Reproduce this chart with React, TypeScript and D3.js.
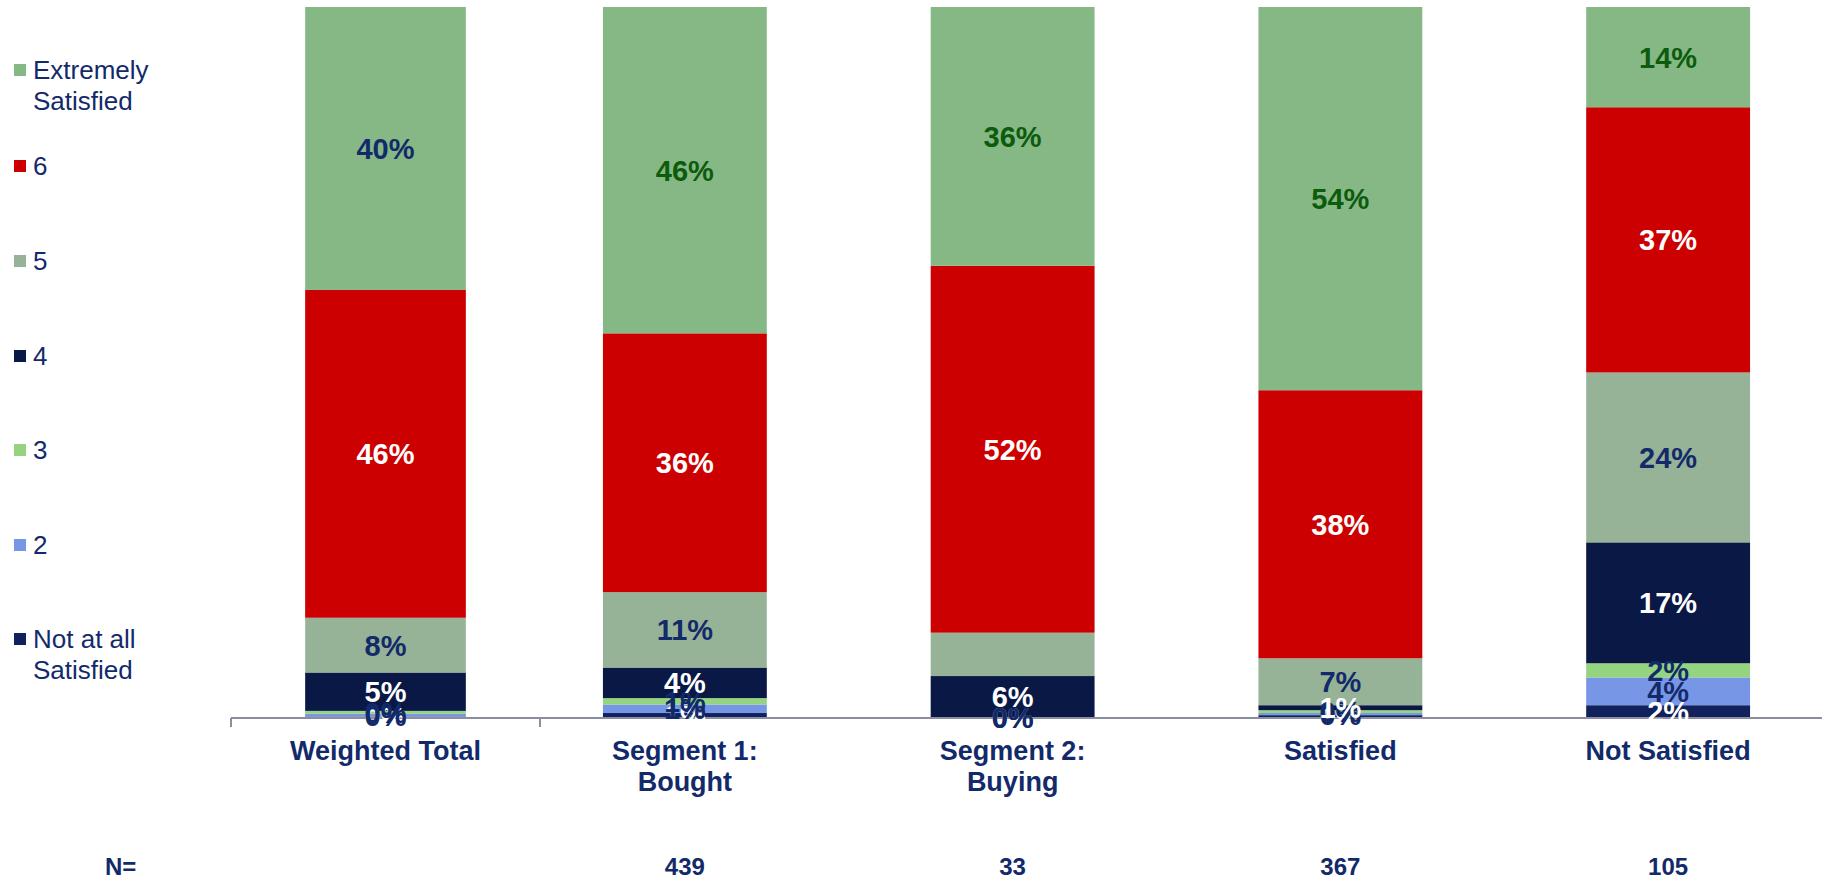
import React from "react";
import * as d3 from "d3";

const categories = ["Weighted Total", "Segment 1:\nBought", "Segment 2:\nBuying", "Satisfied", "Not Satisfied"];
const nValues = ["", "439", "33", "367", "105"];
const seriesKeys = ["Not at all Satisfied", "2", "3", "4", "5", "6", "Extremely Satisfied"];
const notAtAll = [0.2, 0.7, 0, 0.4, 1.8];
const two = [0.4, 1.2, 0, 0.3, 3.9];
const three = [0.4, 0.9, 0, 0.4, 2.0];
const four = [5.4, 4.3, 5.9, 0.7, 17.0];
const five = [7.7, 10.6, 6.1, 6.6, 23.9];
const six = [46.1, 36.4, 51.6, 37.7, 37.3];
const extremely = [39.8, 45.9, 36.4, 53.9, 14.1];
const legendOrder = ["Extremely Satisfied", "6", "5", "4", "3", "2", "Not at all Satisfied"];

const seriesValues: number[][] = [notAtAll, two, three, four, five, six, extremely];

const COLORS: Record<string, string> = {
  "Extremely Satisfied": "#86b886",
  "6": "#cc0000",
  "5": "#97b397",
  "4": "#0a1846",
  "3": "#94d47f",
  "2": "#7896e6",
  "Not at all Satisfied": "#10215c",
};
const NAVY = "#132a6a";
const DARKGREEN = "#0d5b0d";
const WHITE = "#ffffff";
const LABEL_COLORS: Record<string, string> = {
  "Extremely Satisfied": NAVY,
  "6": WHITE,
  "5": NAVY,
  "4": WHITE,
  "3": NAVY,
  "2": NAVY,
  "Not at all Satisfied": WHITE,
};
const hiddenLabels = new Set(["Segment 2:\nBuying|5"]);

const FONT = "'Liberation Sans', Arial, Helvetica, sans-serif";

export default function App() {
  const W = 1822;
  const H = 882;
  const baseY = 718;
  const topY = 7;

  const y = d3.scaleLinear().domain([0, 100]).range([baseY, topY]);
  const xTotal = d3
    .scaleBand<string>()
    .domain(categories.slice(0, 1))
    .range([231, 540])
    .paddingInner(0.48)
    .paddingOuter(0.24);
  const xSeg = d3
    .scaleBand<string>()
    .domain(categories.slice(1))
    .range([521, 1832])
    .paddingInner(0.5)
    .paddingOuter(0.25);
  const xPos = (c: string) => (categories.indexOf(c) === 0 ? xTotal(c)! : xSeg(c)!);
  const bw = (c: string) => (categories.indexOf(c) === 0 ? xTotal.bandwidth() : xSeg.bandwidth());

  const rows = categories.map((c, i) => {
    const r: any = { cat: c };
    seriesKeys.forEach((k, j) => (r[k] = seriesValues[j][i]));
    return r;
  });
  const stacked = d3.stack<any>().keys(seriesKeys)(rows);

  const legendY: Record<string, number> = {
    "Extremely Satisfied": 70,
    "6": 166,
    "5": 261,
    "4": 356,
    "3": 450,
    "2": 545,
    "Not at all Satisfied": 639,
  };

  return (
    <svg width={W} height={H} style={{ position: "absolute", left: 0, top: 0, background: "#fff" }} fontFamily={FONT}>
      {/* bars */}
      {stacked.map((s) => (
        <g key={s.key}>
          {s.map((d, i) => {
            const c = categories[i];
            const h = y(d[0]) - y(d[1]);
            if (h <= 0) return null;
            return (
              <rect key={c} x={xPos(c)} y={y(d[1])} width={bw(c)} height={h} fill={COLORS[s.key]} />
            );
          })}
        </g>
      ))}
      {/* axis */}
      <line x1={231} x2={W} y1={baseY} y2={baseY} stroke="#8b8ea0" strokeWidth={2} />
      {xTotal.range().map((t) => (
        <line key={t} x1={t} x2={t} y1={baseY} y2={baseY + 9} stroke="#8b8ea0" strokeWidth={2} />
      ))}
      {/* labels */}
      {stacked.map((s) => (
        <g key={"l" + s.key}>
          {s.map((d, i) => {
            const c = categories[i];
            if (hiddenLabels.has(c + "|" + s.key)) return null;
            const v = d[1] - d[0];
            let col = LABEL_COLORS[s.key];
            if (s.key === "Extremely Satisfied" && i > 0) col = DARKGREEN;
            return (
              <text
                key={c}
                x={xPos(c) + bw(c) / 2}
                y={(y(d[0]) + y(d[1])) / 2}
                dy="0.36em"
                textAnchor="middle"
                fontWeight="bold"
                fontSize={29}
                fill={col}
              >
                {Math.round(v) + "%"}
              </text>
            );
          })}
        </g>
      ))}
      {/* category labels */}
      {categories.map((c) => (
        <text key={c} x={xPos(c) + bw(c) / 2} y={750} textAnchor="middle" fontWeight="bold" fontSize={27} fill={NAVY}>
          {c.split("\n").map((line, k) => (
            <tspan key={k} x={xPos(c) + bw(c) / 2} dy={k === 0 ? "0.36em" : 31}>
              {line}
            </tspan>
          ))}
        </text>
      ))}
      {/* N row */}
      <text x={105} y={866} dy="0.36em" fontWeight="bold" fontSize={24} fill={NAVY}>
        N=
      </text>
      {categories.map((c, i) => (
        <text key={"n" + c} x={xPos(c) + bw(c) / 2} y={866} dy="0.36em" textAnchor="middle" fontWeight="bold" fontSize={24} fill={NAVY}>
          {nValues[i]}
        </text>
      ))}
      {/* legend */}
      {legendOrder.map((k) => {
        const ly = legendY[k];
        const lines = k.includes("Satisfied") ? (k === "Extremely Satisfied" ? ["Extremely", "Satisfied"] : ["Not at all", "Satisfied"]) : [k];
        return (
          <g key={"lg" + k}>
            <rect x={14} y={ly - 6} width={12} height={12} fill={COLORS[k]} />
            <text x={33} y={ly} fontSize={26} fill={NAVY}>
              {lines.map((line, j) => (
                <tspan key={j} x={33} dy={j === 0 ? "0.36em" : 31}>
                  {line}
                </tspan>
              ))}
            </text>
          </g>
        );
      })}
    </svg>
  );
}
